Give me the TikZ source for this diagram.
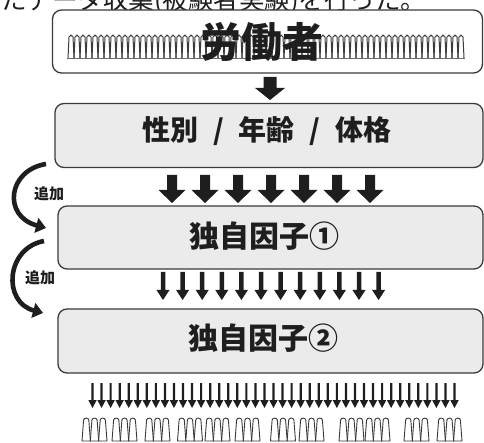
\documentclass[tikz,border=0pt]{standalone}
\usepackage{fontspec}
\setmainfont{Noto Sans CJK JP}
\usetikzlibrary{arrows.meta}
\definecolor{ink}{HTML}{1E1E1E}
\definecolor{boxgray}{HTML}{EBEBEB}
\definecolor{edge}{HTML}{3A3A3A}
\definecolor{crowd}{HTML}{3C3C3C}
% x, top, tip, shaft width, head width, head height
\newcommand\dnarr[6]{%
  \fill[ink] ({#1-#4/2},#2) -- ({#1+#4/2},#2) -- ({#1+#4/2},{#3-#6}) -- ({#1+#5/2},{#3-#6})
    -- (#1,#3) -- ({#1-#5/2},{#3-#6}) -- ({#1-#4/2},{#3-#6}) -- cycle;}
\newcommand\person[1]{%
  \draw[edge, fill=white, line width=0.9pt] ({#1-4.2},441) -- ({#1-2.6},420)
    .. controls ({#1-2.2},417.5) and ({#1+2.2},417.5) .. ({#1+2.6},420) -- ({#1+4.2},441) -- cycle;}
\begin{document}
\begin{tikzpicture}[x=1pt,y=-1pt,
  box/.style={draw=edge, line width=1.3pt, rounded corners=9pt, fill=boxgray, inner sep=0pt},
  title/.style={font=\bfseries\fontsize{30}{30}\selectfont, text=ink, inner sep=0pt},
  curvearr/.style={draw=ink, line width=4.6pt, -{Triangle[length=10pt,width=15pt]}},
  lab/.style={font=\bfseries\fontsize{15}{15}\selectfont, text=ink, inner sep=0pt}]
\useasboundingbox (0,0) rectangle (484,443);
\begin{scope}
\clip (0,0) rectangle (484,443);
\node[anchor=base west, font=\fontsize{25.5}{25.5}\selectfont, text=ink, inner sep=0pt] (cap) at (1,9.5) {たデータ収集(被験者実験)を行った。};
\end{scope}

% box 1: workers
\node[box, fill=white, minimum width=430pt, minimum height=63pt] (w) at (267.5,41.5) {};
\foreach \i in {0,...,65} {
  \pgfmathsetmacro\xa{68+6*\i}
  \draw[crowd, line width=1pt] (\xa,58) -- ({\xa+1},37) .. controls ({\xa+1.4},34.5) and ({\xa+4.6},34.5) .. ({\xa+5},37) -- ({\xa+6},58);
}
\draw[crowd!75, line width=1.8pt] (67,58.5) -- (465,58.5);
\node[font=\bfseries\fontsize{41}{41}\selectfont, text=ink, inner sep=0pt] (wt) at (262,42) {労働者};

\dnarr{270}{77}{100}{13}{30}{12}

% box 2
\node[box, minimum width=428pt, minimum height=64pt] (b2) at (269,135.5) {};
\node[font=\bfseries\fontsize{28}{28}\selectfont, text=ink, inner sep=0pt] (b2t) at (267,131) {\spaceskip15pt\relax 性別 / 年齢 / 体格};

\foreach \x in {172,205,238,271,304,337,370} {
  \dnarr{\x}{175}{203}{10}{27}{13}
}

% box 3
\node[box, minimum width=425pt, minimum height=63pt] (b3) at (270.5,237.5) {};
\node[title] (b3t) at (264,236) {独自因子①};

\foreach \i in {0,...,11} {
  \dnarr{163+19.6*\i}{272}{300}{4.5}{13}{10}
}

% box 4
\node[box, minimum width=425pt, minimum height=64pt] (b4) at (270.5,341) {};
\node[title] (b4t) at (263,338) {独自因子②};

\foreach \i in {0,...,40} {
  \dnarr{92.5+9.05*\i}{383}{408}{2.2}{8.5}{8}
}

% people
\foreach \c in {94.5,124.5,157.5,190,217.5,247.5,283,311.5,351.5,377.5,416.5,449.5} {
  \person{\c-8.3}\person{\c+8.3}\person{\c}
}

% curved "add" arrows
\coordinate (a1s) at (46,164);
\coordinate (a1e) at (46,228);
\draw[curvearr] (a1s) .. controls (8,170) and (2,216) .. (a1e);
\node[lab] (l1) at (49,194) {追加};
\coordinate (a2s) at (44,241);
\coordinate (a2e) at (43,313);
\draw[curvearr] (a2s) .. controls (6,248) and (2,302) .. (a2e);
\node[lab] (l2) at (40,278) {追加};
\end{tikzpicture}
\end{document}
